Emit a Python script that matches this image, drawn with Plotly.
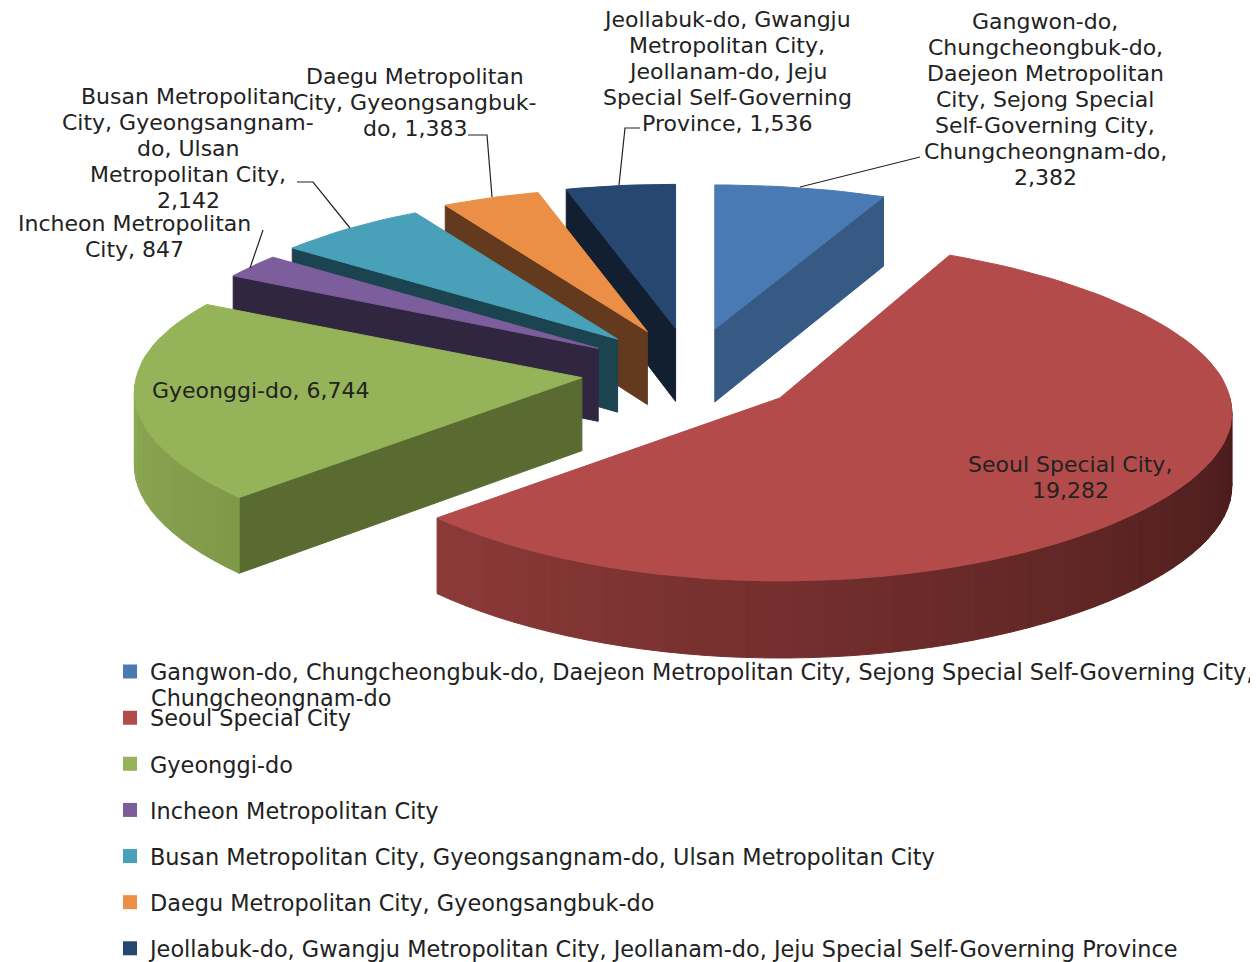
import math
import plotly.graph_objects as go

# ---- data ----
regions = [
    "Gangwon-do, Chungcheongbuk-do, Daejeon Metropolitan City, Sejong Special Self-Governing City, Chungcheongnam-do",
    "Seoul Special City",
    "Gyeonggi-do",
    "Incheon Metropolitan City",
    "Busan Metropolitan City, Gyeongsangnam-do, Ulsan Metropolitan City",
    "Daegu Metropolitan City, Gyeongsangbuk-do",
    "Jeollabuk-do, Gwangju Metropolitan City, Jeollanam-do, Jeju Special Self-Governing Province",
]
values = [2382, 19282, 6744, 847, 2142, 1383, 1536]

# ---- styles ----
top_colors = ["#4a7ab3", "#b24b4a", "#95b358", "#7b5e9b", "#48a0b9", "#ec8f46", "#26476f"]
cut_colors = ["#365a84", None, "#5a6b31", "#312640", "#1c4350", "#633a1e", "#121f30"]
# wall gradient: colour at the lower angle end, colour at the higher angle end
wall_grad = {1: ((70, 26, 26), (140, 58, 56)), 2: ((126, 152, 72), (143, 170, 85))}
cut_edge = {0: "end", 2: "start", 3: "start", 4: "start", 5: "start", 6: "start"}

label_lines = [
    ["Gangwon-do,", "Chungcheongbuk-do,", "Daejeon Metropolitan", "City, Sejong Special", "Self-Governing City,", "Chungcheongnam-do,"],
    ["Seoul Special City,"],
    ["Gyeonggi-do,"],
    ["Incheon Metropolitan", "City,"],
    ["Busan Metropolitan", "City, Gyeongsangnam-", "do, Ulsan", "Metropolitan City,"],
    ["Daegu Metropolitan", "City, Gyeongsangbuk-", "do,"],
    ["Jeollabuk-do, Gwangju", "Metropolitan City,", "Jeollanam-do, Jeju", "Special Self-Governing", "Province,"],
]
value_newline = [True, True, False, False, True, False, False]
label_pos = [(1045, 21), (1070, 464), (260, 390), (134, 223), (188, 96), (415, 76), (727, 19)]
LINE_STEP = 26
leaders = [
    [(800, 187), (920, 157)],
    [(492, 197), (487, 135), (468, 135)],
    [(619, 185), (625, 128), (640, 128)],
    [(350, 228), (313, 182), (297, 182)],
    [(250, 268), (263, 230)],
]

# ---- projection of the tilted pie ----
CX, CY = 691, 372
EXPLODE_X, EXPLODE_Y = 110, 44.1
DEPTH = 73
PAGE_MARGIN = 8  # the page's own body margin
W, H = 1258, 962


def rim(theta, mid):
    s, c = math.sin(theta), math.cos(theta)
    if c >= 0 and math.cos(mid) >= 0:
        rx = 450 - 83 * c + 30 * c * c
    elif c >= 0:
        rx = 450 - 35 * c - 20 * c * c
    else:
        rx = 450 - 45 * c - 20 * c * c
    if s < 0:
        rx *= 0.99
    ry = 163.5 - 19.5 * c + 22 * max(-math.cos(mid), 0) * max(c, 0)
    return rx * s, -ry * c


def wall_depth(theta):
    return DEPTH - 4 * math.cos(theta)


fig = go.Figure()
FONT = "DejaVu Sans"
FS = 22
FS_LEGEND = 22.4
TXT = "#222222"


def poly(xs, ys, color):
    fig.add_trace(go.Scatter(x=xs, y=ys, mode="lines", fill="toself", fillcolor=color,
                             line=dict(color=color, width=1), hoverinfo="skip", showlegend=False))


def text_at(x, y, s, anchor="center", size=FS):
    fig.add_annotation(x=x, y=y, text=s, showarrow=False, xanchor=anchor, yanchor="middle",
                       font=dict(family=FONT, size=size, color=TXT))


# legend entries, first so that they are listed in order
for i, name in enumerate(regions):
    shown = name.replace(", Chungcheongnam-do", ",") if i == 0 else name
    fig.add_trace(go.Scatter(x=[None], y=[None], mode="markers", name=shown, legendgroup=f"g{i}",
                             marker=dict(symbol="square", size=14, color=top_colors[i])))

total = sum(values)
spans, a = [], 0.0
for v in values:
    b = a + v / total * 2 * math.pi
    spans.append((a, b))
    a = b

for i in [6, 5, 4, 3, 2, 0, 1]:
    t0, t1 = spans[i]
    mid = (t0 + t1) / 2
    ax = CX + EXPLODE_X * math.sin(mid)
    ay = CY - EXPLODE_Y * math.cos(mid)
    n = max(8, int((t1 - t0) / math.radians(2)))
    ths = [t0 + (t1 - t0) * k / n for k in range(n + 1)]
    # flat cut wall
    if i in cut_edge:
        t = t0 if cut_edge[i] == "start" else t1
        dx, dy = rim(t, mid)
        poly([ax, ax + dx, ax + dx, ax, ax],
             [ay, ay + dy, ay + dy + wall_depth(t), ay + DEPTH, ay], cut_colors[i])
    # curved outer wall with shading
    if i in wall_grad:
        c0, c1 = wall_grad[i]
        lo = max(t0, math.pi / 2)
        hi = min(t1, 3 * math.pi / 2)
        m = int((hi - lo) / math.radians(2.5))
        for k in range(m):
            u0 = lo + (hi - lo) * k / m
            u1 = lo + (hi - lo) * (k + 1) / m
            f = (k + 0.5) / m
            col = "rgb(%d,%d,%d)" % tuple(round(c0[j] + (c1[j] - c0[j]) * f) for j in range(3))
            x0, y0 = rim(u0, mid)
            x1, y1 = rim(u1, mid)
            poly([ax + x0, ax + x1, ax + x1, ax + x0, ax + x0],
                 [ay + y0, ay + y1, ay + y1 + wall_depth(u1), ay + y0 + wall_depth(u0), ay + y0], col)
    # top face
    xs = [ax] + [ax + rim(t, mid)[0] for t in ths] + [ax]
    ys = [ay] + [ay + rim(t, mid)[1] for t in ths] + [ay]
    poly(xs, ys, top_colors[i])

for pts in leaders:
    fig.add_trace(go.Scatter(x=[p[0] for p in pts], y=[p[1] for p in pts], mode="lines",
                             line=dict(color="#222222", width=1.2), hoverinfo="skip", showlegend=False))

for i, lines in enumerate(label_lines):
    val = f"{values[i]:,}"
    rows = lines + [val] if value_newline[i] else lines[:-1] + [lines[-1] + " " + val]
    for k, row in enumerate(rows):
        text_at(label_pos[i][0], label_pos[i][1] + k * LINE_STEP, row)

# wrapped tail of the first legend entry
text_at(149, 698, "Chungcheongnam-do", "left", FS_LEGEND)

fig.update_layout(
    width=W - PAGE_MARGIN, height=H - PAGE_MARGIN,
    margin=dict(l=0, r=0, t=0, b=0, autoexpand=False),
    paper_bgcolor="white", plot_bgcolor="white",
    xaxis=dict(range=[PAGE_MARGIN, W], visible=False, fixedrange=True),
    yaxis=dict(range=[H, PAGE_MARGIN], visible=False, fixedrange=True),
    legend=dict(x=(110 - PAGE_MARGIN) / (W - PAGE_MARGIN), y=1 - (650.5 - PAGE_MARGIN) / (H - PAGE_MARGIN),
                xanchor="left", yanchor="top", maxheight=400,
                tracegroupgap=14, traceorder="grouped", bgcolor="rgba(0,0,0,0)",
                font=dict(family=FONT, size=FS_LEGEND, color=TXT)),
)
fig.write_html("out.html")
